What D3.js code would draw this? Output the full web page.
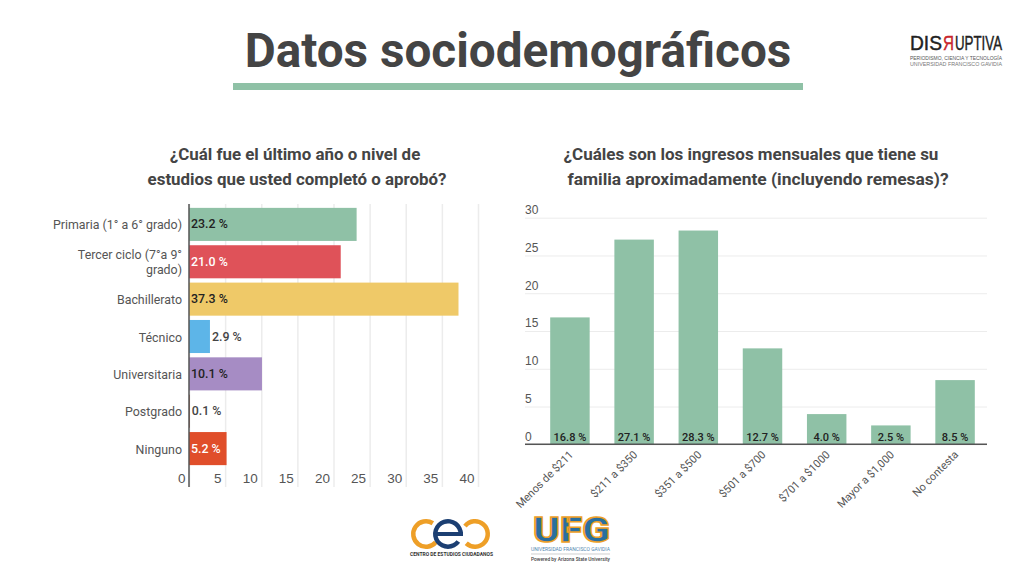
<!DOCTYPE html>
<html>
<head>
<meta charset="utf-8">
<script src="https://cdnjs.cloudflare.com/ajax/libs/d3/7.8.5/d3.min.js"></script>
<style>
    html, body { margin: 0; padding: 0; background: #fff; }
    svg { display: block; font-family: Roboto, sans-serif; }
    .domain { display: none; }
    .tick line { stroke: #ececec; }
    .tick text { fill: #555; font-size: 12px; }
</style>
</head>
<body>
<svg id="chart" width="1024" height="576"></svg>
<script>
    "use strict";

    var levelLabels = [["Primaria (1° a 6° grado)"], ["Tercer ciclo (7°a 9°", "grado)"], ["Bachillerato"], ["Técnico"], ["Universitaria"], ["Postgrado"], ["Ninguno"]];
    var levelValues = [23.2, 21.0, 37.3, 2.9, 10.1, 0.1, 5.2];
    var levelColors = ["#8fc1a6", "#df5259", "#efc968", "#5db5e8", "#a68cc4", "#8a3a20", "#e04e2a"];
    var levelTextColors = ["#222", "#fff", "#222", "#444", "#222", "#444", "#fff"];
    var levelTicks = [0, 5, 10, 15, 20, 25, 30, 35, 40];

    var incomeLabels = ["Menos de $211", "$211 a $350", "$351 a $500", "$501 a $700", "$701 a $1000", "Mayor a $1,000", "No contesta"];
    var incomeValues = [16.8, 27.1, 28.3, 12.7, 4.0, 2.5, 8.5];
    var incomeTicks = [0, 5, 10, 15, 20, 25, 30];

    var svg = d3.select("#chart");
    var green = "#8fc1a6";
    var dark = "#444";

    function centered(x, y, str, size, weight, color) {
        return svg.append("text")
            .attr("x", x).attr("y", y)
            .attr("text-anchor", "middle")
            .attr("font-size", size)
            .attr("font-weight", weight)
            .attr("fill", color)
            .text(str);
    }

    // ---------------------------------------------- //
    // Title and chart headings
    // ---------------------------------------------- //

    centered(518, 67, "Datos sociodemográficos", 47.7, 700, dark);
    svg.append("rect").attr("x", 233).attr("y", 83).attr("width", 570).attr("height", 7).attr("fill", green);

    centered(295, 160, "¿Cuál fue el último año o nivel de", 16.9, 700, dark);
    centered(297, 185, "estudios que usted completó o aprobó?", 16.9, 700, dark);
    centered(751, 160, "¿Cuáles son los ingresos mensuales que tiene su", 17, 700, dark);
    centered(758, 185, "familia aproximadamente (incluyendo remesas)?", 17.4, 700, dark);

    // ---------------------------------------------- //
    // Left chart: horizontal bars
    // ---------------------------------------------- //

    var x = d3.scaleLinear().domain([0, 40]).range([189, 478]);
    var yBand = d3.scaleBand().domain(d3.range(levelValues.length)).range([206, 467]).paddingInner(0.115).paddingOuter(0.05);

    var xAxis = svg.append("g")
        .attr("transform", "translate(0,487)")
        .call(d3.axisBottom(x).tickValues(levelTicks).tickSize(-283).tickPadding(0));
    xAxis.selectAll(".tick line").attr("stroke-width", 1.5);
    xAxis.selectAll(".tick text")
        .attr("text-anchor", "end")
        .attr("x", -4)
        .attr("y", -14)
        .attr("dy", "0.71em")
        .style("font-size", "13.5px");

    svg.append("g").selectAll("rect")
        .data(levelValues)
        .enter().append("rect")
        .attr("x", x(0))
        .attr("y", function(d, i) { return yBand(i); })
        .attr("width", function(d) { return x(d) - x(0); })
        .attr("height", yBand.bandwidth())
        .attr("fill", function(d, i) { return levelColors[i]; });

    svg.append("line")
        .attr("x1", x(0)).attr("x2", x(0)).attr("y1", 204).attr("y2", 487)
        .attr("stroke", "#555").attr("stroke-width", 1.5);

    var levelRows = svg.append("g").selectAll("text")
        .data(levelLabels)
        .enter().append("text")
        .attr("text-anchor", "end")
        .attr("font-size", 12.4)
        .attr("fill", "#555");
    levelRows.each(function(lines, i) {
        var mid = yBand(i) + yBand.bandwidth() / 2;
        d3.select(this).selectAll("tspan")
            .data(lines)
            .enter().append("tspan")
            .attr("x", 182)
            .attr("y", function(d, j) { return mid + 5 + (j - (lines.length - 1) / 2) * 15; })
            .text(function(d) { return d; });
    });

    svg.append("g").selectAll("text")
        .data(levelValues)
        .enter().append("text")
        .attr("x", function(d) { return d < 5 ? x(d) + 2 : x(0) + 2; })
        .attr("y", function(d, i) { return yBand(i) + yBand.bandwidth() / 2 + 4; })
        .attr("font-size", 12.4)
        .attr("font-weight", 500)
        .attr("fill", function(d, i) { return levelTextColors[i]; })
        .text(function(d) { return d.toFixed(1) + " %"; });

    // ---------------------------------------------- //
    // Right chart: vertical bars
    // ---------------------------------------------- //

    var xBand = d3.scaleBand().domain(incomeLabels).range([538, 987]).paddingInner(0.385).paddingOuter(0.19);
    var y = d3.scaleLinear().domain([0, 30]).range([444.3, 217.7]);

    var yAxis = svg.append("g")
        .attr("transform", "translate(987,0)")
        .call(d3.axisLeft(y).tickValues(incomeTicks).tickSize(462).tickPadding(0));
    yAxis.selectAll(".tick line").attr("stroke-width", 1);
    yAxis.selectAll(".tick text")
        .attr("text-anchor", "start")
        .attr("x", -462)
        .attr("dy", "-0.35em");

    svg.append("g").selectAll("rect")
        .data(incomeValues)
        .enter().append("rect")
        .attr("x", function(d, i) { return xBand(incomeLabels[i]); })
        .attr("y", function(d) { return y(d); })
        .attr("width", xBand.bandwidth())
        .attr("height", function(d) { return y(0) - y(d); })
        .attr("fill", green);

    svg.append("line")
        .attr("x1", 525).attr("x2", 987).attr("y1", y(0)).attr("y2", y(0))
        .attr("stroke", "#555").attr("stroke-width", 1.5);

    svg.append("g").selectAll("text")
        .data(incomeValues)
        .enter().append("text")
        .attr("x", function(d, i) { return xBand(incomeLabels[i]) + xBand.bandwidth() / 2; })
        .attr("y", y(0) - 3)
        .attr("text-anchor", "middle")
        .attr("font-size", 11)
        .attr("font-weight", 500)
        .attr("fill", "#222")
        .text(function(d) { return d.toFixed(1) + " %"; });

    svg.append("g").selectAll("text")
        .data(incomeLabels)
        .enter().append("text")
        .attr("transform", function(d) {
            return "translate(" + (xBand(d) + xBand.bandwidth() / 2 + 4) + "," + (y(0) + 11) + ") rotate(-45)";
        })
        .attr("text-anchor", "end")
        .attr("font-size", 11)
        .attr("fill", "#555")
        .text(function(d) { return d; });

    // ---------------------------------------------- //
    // Logos
    // ---------------------------------------------- //

    function fitted(px, py, width, str, size, weight, color, family) {
        return svg.append("text")
            .attr("x", px).attr("y", py)
            .attr("textLength", width)
            .attr("lengthAdjust", "spacingAndGlyphs")
            .attr("font-family", family || "Roboto, sans-serif")
            .attr("font-size", size)
            .attr("font-weight", weight)
            .attr("fill", color)
            .text(str);
    }

    var narrow = "'Liberation Sans Narrow', sans-serif";
    fitted(910, 50, 32, "DIS", 19.5, 400, "#222", narrow).attr("stroke", "#222").attr("stroke-width", 0.4);
    fitted(0, 0, 11, "R", 19.5, 400, "#c8262c", narrow).attr("stroke", "#c8262c").attr("stroke-width", 0.4)
        .attr("transform", "translate(954,50) scale(-1,1)");
    fitted(955, 50, 47, "UPTIVA", 19.5, 400, "#222", narrow).attr("stroke", "#222").attr("stroke-width", 0.4);
    fitted(910, 60, 92, "PERIODISMO, CIENCIA Y TECNOLOGÍA", 6, 400, "#555", narrow);
    fitted(910, 66, 92, "UNIVERSIDAD FRANCISCO GAVIDIA", 6, 400, "#777", narrow);

    var arc = d3.arc().innerRadius(10.5).outerRadius(15);
    var cec = svg.append("g");
    cec.append("path").attr("transform", "translate(426,534)")
        .attr("d", arc({ startAngle: 2.27, endAngle: 6.85 })).attr("fill", "#ee9f27");
    cec.append("path").attr("transform", "translate(448,534)")
        .attr("d", arc({ startAngle: 2.2, endAngle: 7.85 })).attr("fill", "#1c3f72");
    cec.append("rect").attr("x", 434).attr("y", 532).attr("width", 29).attr("height", 4).attr("fill", "#1c3f72");
    cec.append("path").attr("transform", "translate(475,534)")
        .attr("d", arc({ startAngle: -0.9, endAngle: 3.9 })).attr("fill", "#ee9f27");
    fitted(410, 556, 83, "CENTRO DE ESTUDIOS CIUDADANOS", 5.5, 700, "#333");

    fitted(533, 542, 77, "UFG", 35, 900, "#2a6f9e")
        .attr("stroke", "#ee9f27").attr("stroke-width", 1.5);
    fitted(531, 550.5, 79, "UNIVERSIDAD FRANCISCO GAVIDIA", 5, 400, "#4f86b0");
    svg.append("line").attr("x1", 531).attr("x2", 610).attr("y1", 554).attr("y2", 554).attr("stroke", "#bbb").attr("stroke-width", 0.7);
    fitted(531, 561, 79, "Powered by Arizona State University", 5.5, 500, "#444");
</script>
</body>
</html>
